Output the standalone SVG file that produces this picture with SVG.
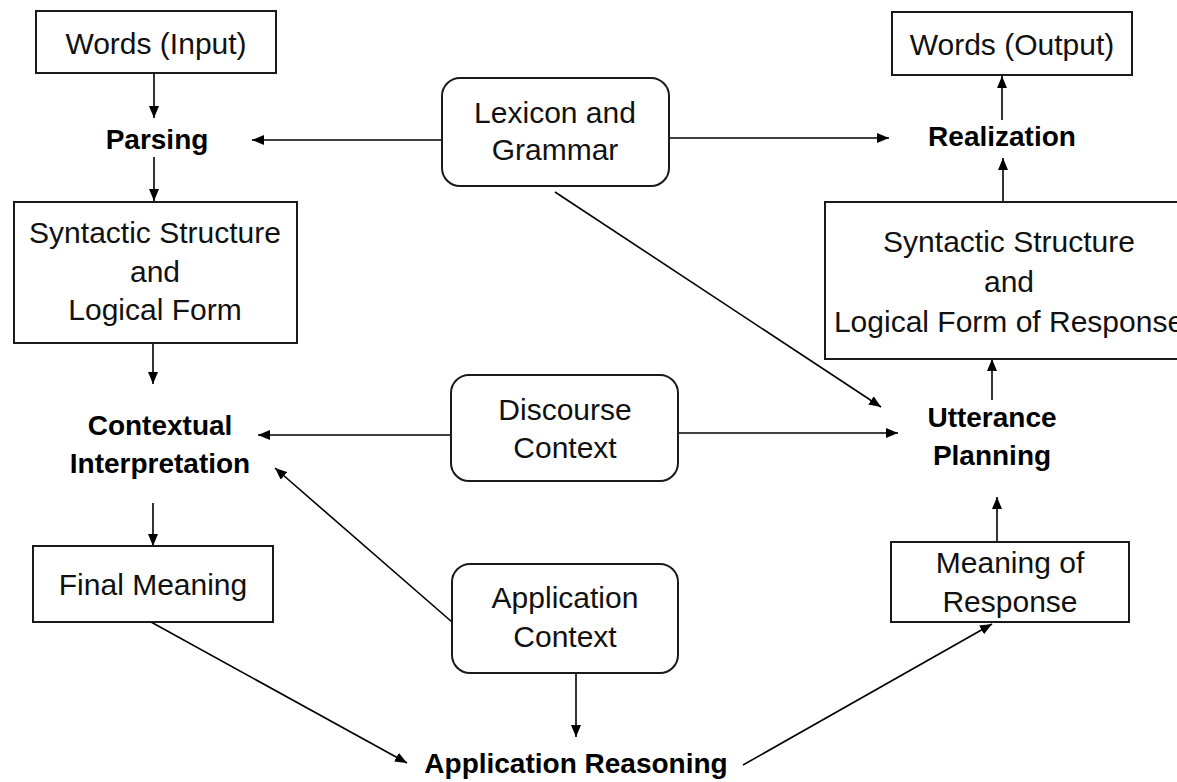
<svg xmlns="http://www.w3.org/2000/svg" width="1177" height="782" viewBox="0 0 1177 782">
  <defs>
    <marker id="arrow" viewBox="0 0 12 10" refX="12" refY="5" markerWidth="12" markerHeight="10" markerUnits="userSpaceOnUse" orient="auto">
      <path d="M0,0 L12,5 L0,10 z" fill="#000"/>
    </marker>
    <style>
      .box { fill: #fff; stroke: #1a1a1a; stroke-width: 2; }
      .rbox { fill: #fff; stroke: #1a1a1a; stroke-width: 2; }
      .lbl { font-family: "Liberation Sans", Arial, sans-serif; font-size: 30px; fill: #111; text-anchor: middle; }
      .step { font-family: "Liberation Sans", Arial, sans-serif; font-size: 28px; font-weight: bold; fill: #000; text-anchor: middle; }
      .edge { fill: none; stroke: #000; stroke-width: 1.6; marker-end: url(#arrow); }
      .plain { fill: none; stroke: #000; stroke-width: 1.6; }
    </style>
  </defs>
  <rect width="1177" height="782" fill="#fff"/>

  <!-- connectors -->
  <g id="connectors">
    <line class="edge" x1="154" y1="73" x2="154" y2="118"/>
    <line class="edge" x1="154" y1="157" x2="154" y2="201"/>
    <line class="edge" x1="153" y1="343" x2="153" y2="384"/>
    <line class="edge" x1="153" y1="503" x2="153" y2="546"/>
    <line class="edge" x1="151" y1="622" x2="407" y2="763"/>
    <line class="edge" x1="442" y1="140" x2="252" y2="140"/>
    <line class="edge" x1="669" y1="138" x2="889" y2="138"/>
    <line class="edge" x1="555" y1="192" x2="881" y2="407"/>
    <line class="edge" x1="451" y1="435" x2="258" y2="435"/>
    <line class="edge" x1="678" y1="433" x2="898" y2="433"/>
    <line class="edge" x1="452" y1="622" x2="275" y2="468"/>
    <line class="edge" x1="576" y1="673" x2="576" y2="737"/>
    <line class="edge" x1="743" y1="765" x2="992" y2="624"/>
    <line class="edge" x1="997" y1="542" x2="997" y2="497"/>
    <line class="edge" x1="992" y1="400" x2="992" y2="359"/>
    <line class="edge" x1="1003" y1="202" x2="1003" y2="158"/>
    <line class="edge" x1="1002" y1="120" x2="1002" y2="76"/>
  </g>

  <!-- input side -->
  <g id="words-input">
    <rect class="box" x="36" y="11" width="240" height="62"/>
    <text class="lbl" x="156" y="54">Words (Input)</text>
  </g>
  <g id="parsing">
    <text class="step" x="157" y="149">Parsing</text>
  </g>
  <g id="syntax-in">
    <rect class="box" x="14" y="202" width="283" height="141"/>
    <text class="lbl" x="155" y="243">Syntactic Structure</text>
    <text class="lbl" x="155" y="282">and</text>
    <text class="lbl" x="155" y="320">Logical Form</text>
  </g>
  <g id="contextual-interpretation">
    <text class="step" x="160" y="435">Contextual</text>
    <text class="step" x="160" y="473">Interpretation</text>
  </g>
  <g id="final-meaning">
    <rect class="box" x="33" y="546" width="240" height="76"/>
    <text class="lbl" x="153" y="595">Final Meaning</text>
  </g>

  <!-- shared knowledge -->
  <g id="lexicon-grammar">
    <rect class="rbox" x="442" y="78" width="227" height="108" rx="18"/>
    <text class="lbl" x="555" y="123">Lexicon and</text>
    <text class="lbl" x="555" y="160">Grammar</text>
  </g>
  <g id="discourse-context">
    <rect class="rbox" x="451" y="375" width="227" height="106" rx="18"/>
    <text class="lbl" x="565" y="420">Discourse</text>
    <text class="lbl" x="565" y="458">Context</text>
  </g>
  <g id="application-context">
    <rect class="rbox" x="452" y="564" width="226" height="109" rx="18"/>
    <text class="lbl" x="565" y="608">Application</text>
    <text class="lbl" x="565" y="647">Context</text>
  </g>
  <g id="application-reasoning">
    <text class="step" x="576" y="773">Application Reasoning</text>
  </g>

  <!-- output side -->
  <g id="words-output">
    <rect class="box" x="892" y="12" width="240" height="63"/>
    <text class="lbl" x="1012" y="55">Words (Output)</text>
  </g>
  <g id="realization">
    <text class="step" x="1002" y="146">Realization</text>
  </g>
  <g id="syntax-out">
    <rect class="box" x="825" y="202" width="368" height="157"/>
    <text class="lbl" x="1009" y="252">Syntactic Structure</text>
    <text class="lbl" x="1009" y="292">and</text>
    <text class="lbl" x="1009" y="332">Logical Form of Response</text>
  </g>
  <g id="utterance-planning">
    <text class="step" x="992" y="427">Utterance</text>
    <text class="step" x="992" y="465">Planning</text>
  </g>
  <g id="meaning-response">
    <rect class="box" x="891" y="542" width="238" height="80"/>
    <text class="lbl" x="1010" y="573">Meaning of</text>
    <text class="lbl" x="1010" y="612">Response</text>
  </g>
</svg>
